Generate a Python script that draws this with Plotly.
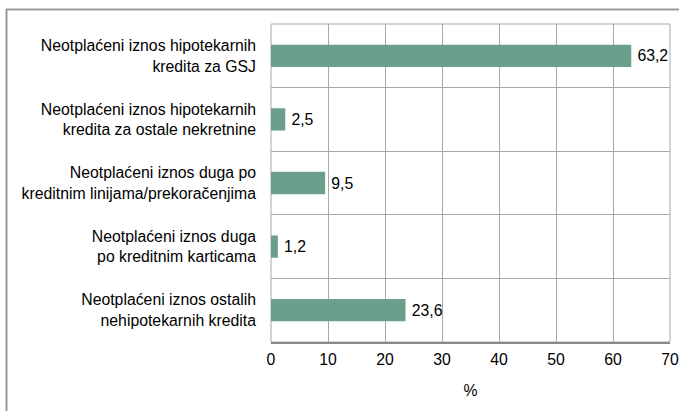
import plotly.graph_objects as go

categories = [
    "Neotplaćeni iznos hipotekarnih<br>kredita za GSJ",
    "Neotplaćeni iznos hipotekarnih<br>kredita za ostale nekretnine",
    "Neotplaćeni iznos duga po<br>kreditnim linijama/prekoračenjima",
    "Neotplaćeni iznos duga<br>po kreditnim karticama",
    "Neotplaćeni iznos ostalih<br>nehipotekarnih kredita",
]
values = [63.2, 2.5, 9.5, 1.2, 23.6]
labels = [f"{v:.1f}".replace(".", ",") for v in values]
x_ticks = [0, 10, 20, 30, 40, 50, 60, 70]

W, H = 679, 411
L, R, T, B = 271, 9, 24, 69
pw, ph = W - L - R, H - T - B
FONT = "Liberation Sans, Arial"
FS = 15.8

fig = go.Figure(go.Bar(
    y=categories, x=values, orientation="h",
    marker=dict(color="#6b9e8b", line=dict(width=0)),
    width=0.35,
    text=["\u2009" + s for s in labels], textposition="outside",
    textfont=dict(family=FONT, size=FS, color="#000"),
    cliponaxis=False,
))

fig.update_layout(
    width=W, height=H,
    margin=dict(l=L, r=R, t=T, b=B, autoexpand=False),
    paper_bgcolor="white", plot_bgcolor="white",
    font=dict(family=FONT, size=FS, color="#000"),
    showlegend=False,
    xaxis=dict(
        range=[0, 70], tickvals=x_ticks, ticks="",
        showgrid=True, gridcolor="#a8a8a8", gridwidth=1,
        showline=True, linecolor="#8a8a8a", linewidth=2,
        zeroline=False, ticklabelstandoff=2, automargin=False,
        ticklabeloverflow="allow",
        title=dict(text="%", standoff=18, font=dict(size=FS)),
        fixedrange=True,
    ),
    yaxis=dict(
        categoryorder="array", categoryarray=categories,
        autorange="reversed", type="category",
        tickson="boundaries", ticks="",
        showgrid=True, gridcolor="#a8a8a8", gridwidth=1,
        showline=False, ticklabelstandoff=14, automargin=False,
        fixedrange=True,
    ),
    shapes=[
        dict(type="rect", xref="paper", yref="paper", x0=0, x1=1, y0=0, y1=1,
             line=dict(color="#a8a8a8", width=1), layer="below"),
        dict(type="line", xref="paper", yref="paper",
             x0=(6 - L) / pw, x1=(W + 10 - L) / pw,
             y0=(T + ph - 9.5) / ph, y1=(T + ph - 9.5) / ph,
             line=dict(color="#9a9a9a", width=2), layer="above"),
        dict(type="line", xref="paper", yref="paper",
             x0=(6.5 - L) / pw, x1=(6.5 - L) / pw,
             y0=-(H + 10 - T - ph) / ph, y1=(T + ph - 9) / ph,
             line=dict(color="#9a9a9a", width=2), layer="above"),
    ],
)

fig.write_html("out.html", config={"displayModeBar": False},
               post_script="document.body.style.margin='0px';")
